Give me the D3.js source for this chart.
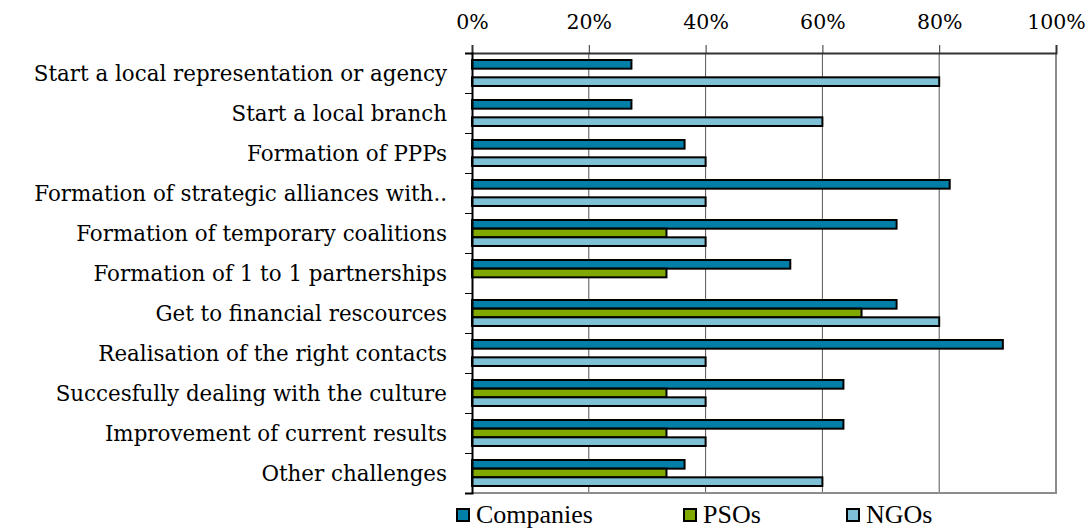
<!DOCTYPE html>
<html>
<head>
<meta charset="utf-8">
<script src="https://cdn.jsdelivr.net/npm/d3@7"></script>
<style>
  html, body { margin: 0; padding: 0; background: #fff; }
  svg { display: block; }
</style>
</head>
<body>
<svg id="chart" width="1092" height="528"></svg>
<script>
// Share of respondents per challenge, by type of organisation
const categories = [
  "Start a local representation or agency",
  "Start a local branch",
  "Formation of PPPs",
  "Formation of strategic alliances with..",
  "Formation of temporary coalitions",
  "Formation of 1 to 1 partnerships",
  "Get to financial rescources",
  "Realisation of the right contacts",
  "Succesfully dealing with the culture",
  "Improvement of current results",
  "Other challenges"
];
const seriesNames = ["Companies", "PSOs", "NGOs"];
const companies = [0.273, 0.273, 0.364, 0.818, 0.727, 0.545, 0.727, 0.909, 0.636, 0.636, 0.364];
const psos      = [0, 0, 0, 0, 0.333, 0.333, 0.667, 0, 0.333, 0.333, 0.333];
const ngos      = [0.8, 0.6, 0.4, 0.4, 0.4, 0, 0.8, 0.4, 0.4, 0.4, 0.6];
const xTicks = [0, 0.2, 0.4, 0.6, 0.8, 1];

const colors = { Companies: "#0080a9", PSOs: "#7fa800", NGOs: "#7ec0d5" };
const values = { Companies: companies, PSOs: psos, NGOs: ngos };

const svg = d3.select("#chart");
const plotLeft = 472, plotRight = 1056, plotTop = 53, plotBottom = 493;

const x = d3.scaleLinear().domain([0, 1]).range([plotLeft, plotRight]);
const y = d3.scaleBand().domain(categories).range([plotTop, plotBottom]).padding(0);
const ySub = d3.scaleBand().domain(seriesNames)
  .range([y.bandwidth() * 0.175, y.bandwidth() * 0.825]).padding(0);

// vertical gridlines
svg.append("g").selectAll("line")
  .data(xTicks.slice(1, -1))
  .join("line")
  .attr("x1", d => x(d)).attr("x2", d => x(d))
  .attr("y1", plotTop).attr("y2", plotBottom)
  .attr("stroke", "#555").attr("stroke-width", 1);

// plot frame (right and bottom)
svg.append("line").attr("x1", plotRight).attr("x2", plotRight).attr("y1", plotTop).attr("y2", plotBottom + 1)
  .attr("stroke", "#8c8c8c").attr("stroke-width", 2);
svg.append("line").attr("x1", plotLeft).attr("x2", plotRight + 1).attr("y1", plotBottom).attr("y2", plotBottom)
  .attr("stroke", "#8c8c8c").attr("stroke-width", 2);

// bars
const rows = categories.map((c, i) => ({
  cat: c,
  items: seriesNames.map(s => ({ s, v: values[s][i] }))
}));
svg.append("g").selectAll("g")
  .data(rows)
  .join("g")
  .attr("transform", d => `translate(0,${y(d.cat)})`)
  .selectAll("rect")
  .data(d => d.items.filter(it => it.v > 0))
  .join("rect")
  .attr("x", x(0))
  .attr("y", d => ySub(d.s))
  .attr("width", d => x(d.v) - x(0))
  .attr("height", ySub.bandwidth())
  .attr("fill", d => colors[d.s])
  .attr("stroke", "#000")
  .attr("stroke-width", 2);

// top axis
const xAxis = svg.append("g")
  .attr("transform", `translate(0,${plotTop})`)
  .call(d3.axisTop(x).tickValues(xTicks).tickFormat(d3.format(".0%")).tickSize(8).tickPadding(16));
xAxis.select(".domain").attr("stroke", "#333").attr("stroke-width", 2);
xAxis.selectAll(".tick line").attr("stroke", "#333");
xAxis.selectAll("text")
  .attr("font-family", "'DejaVu Serif', serif")
  .attr("font-size", 20.5)
  .attr("fill", "#000");

// left axis: ticks on category boundaries
const yBound = d3.scaleLinear().domain([0, categories.length]).range([plotTop, plotBottom]);
const yAxis = svg.append("g")
  .attr("transform", `translate(${plotLeft},0)`)
  .call(d3.axisLeft(yBound).tickValues(d3.range(categories.length + 1)).tickFormat("").tickSize(7));
yAxis.select(".domain").attr("stroke", "#000").attr("stroke-width", 2);
yAxis.selectAll(".tick line").attr("stroke", "#000");

// category labels
svg.append("g").selectAll("text")
  .data(categories)
  .join("text")
  .attr("x", plotLeft - 25)
  .attr("y", d => y(d) + y.bandwidth() / 2 + 8)
  .attr("text-anchor", "end")
  .attr("font-family", "'DejaVu Serif', serif")
  .attr("font-size", 21.4)
  .attr("fill", "#000")
  .text(d => d);

// legend
const legendX = [456, 683, 846];
const legend = svg.append("g").selectAll("g")
  .data(seriesNames)
  .join("g")
  .attr("transform", (d, i) => `translate(${legendX[i]},508)`);
legend.append("rect")
  .attr("x", 1).attr("y", 1).attr("width", 12).attr("height", 12)
  .attr("fill", d => colors[d]).attr("stroke", "#000").attr("stroke-width", 2);
legend.append("text")
  .attr("x", 20).attr("y", 15)
  .attr("font-family", "'Liberation Serif', serif")
  .attr("font-size", 26)
  .attr("fill", "#000")
  .text(d => d);
</script>
</body>
</html>
